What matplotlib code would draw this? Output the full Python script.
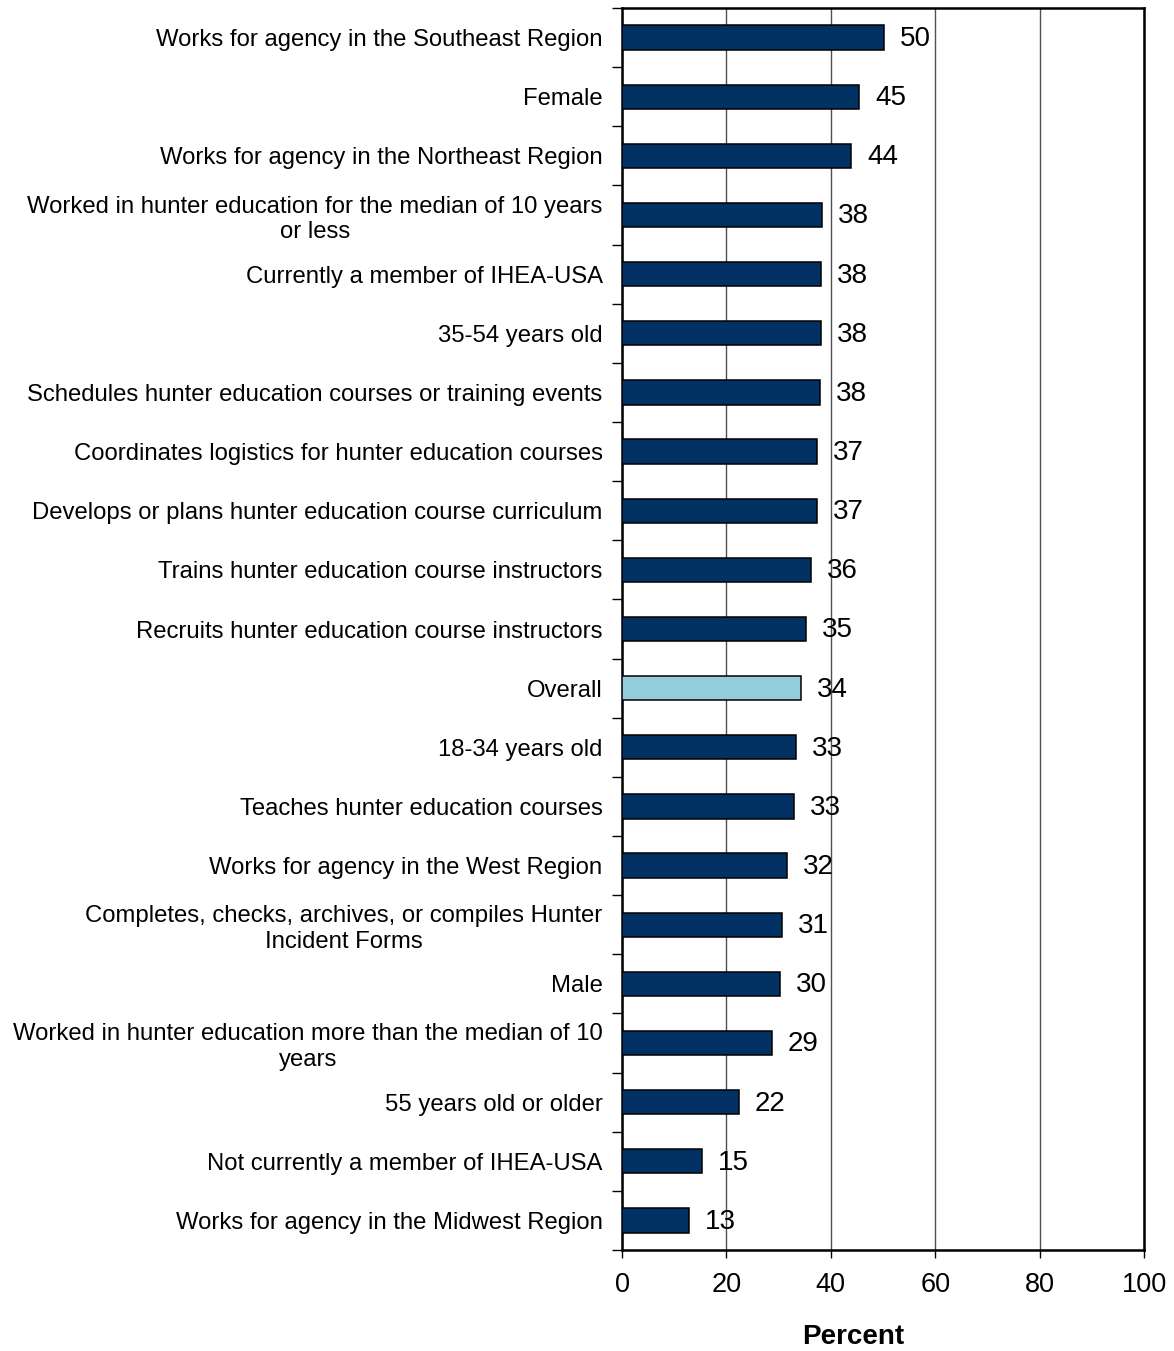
import matplotlib
matplotlib.use("Agg")
import matplotlib.pyplot as plt
from matplotlib.ticker import FixedLocator

plt.rcParams['font.family'] = ['Liberation Sans', 'DejaVu Sans']

categories = [
    "Works for agency in the Southeast Region",
    "Female",
    "Works for agency in the Northeast Region",
    "Worked in hunter education for the median of 10 years\nor less",
    "Currently a member of IHEA-USA",
    "35-54 years old",
    "Schedules hunter education courses or training events",
    "Coordinates logistics for hunter education courses",
    "Develops or plans hunter education course curriculum",
    "Trains hunter education course instructors",
    "Recruits hunter education course instructors",
    "Overall",
    "18-34 years old",
    "Teaches hunter education courses",
    "Works for agency in the West Region",
    "Completes, checks, archives, or compiles Hunter\nIncident Forms",
    "Male",
    "Worked in hunter education more than the median of 10\nyears",
    "55 years old or older",
    "Not currently a member of IHEA-USA",
    "Works for agency in the Midwest Region",
]
percent = [50.2, 45.4, 43.9, 38.3, 38.2, 38.2, 38.0, 37.4, 37.3, 36.2,
           35.2, 34.3, 33.4, 33.0, 31.6, 30.7, 30.2, 28.7, 22.4, 15.4, 12.8]
highlight = "Overall"
x_ticks = [0, 20, 40, 60, 80, 100]

dark = "#023263"
light = "#93CDDD"
colors = [light if c == highlight else dark for c in categories]

fig = plt.figure(figsize=(11.74, 13.51), dpi=100)
ax = fig.add_axes([622 / 1174, 1 - 1250 / 1351, (1144 - 622) / 1174, (1250 - 8) / 1351])

y = list(range(len(categories)))
ax.barh(y, percent, height=0.41, color=colors, edgecolor="black", linewidth=1.1, zorder=3)

for yi, v in zip(y, percent):
    ax.annotate(f"{v:.0f}", xy=(v, yi), xytext=(11.5, -1), textcoords="offset points",
                ha="left", va="center", fontsize=20, zorder=4)

ax.set_xlim(0, 100)
ax.set_ylim(len(categories) - 0.5, -0.5)
ax.set_xticks(x_ticks)
ax.set_xticklabels([str(t) for t in x_ticks], fontsize=19.5)
ax.tick_params(axis="x", direction="out", length=6, width=1, pad=10)

ax.set_yticks(y)
ax.set_yticklabels(categories, fontsize=17.2, multialignment="center")
ax.tick_params(axis="y", which="major", length=0, pad=14)
ax.yaxis.set_minor_locator(FixedLocator([i + 0.5 for i in range(-1, len(categories))]))
ax.tick_params(axis="y", which="minor", direction="out", length=7, width=1)

ax.grid(axis="x", color="#505050", linewidth=1, zorder=0)
for s in ax.spines.values():
    s.set_linewidth(1.8)
    s.set_color("black")

fig.text(853 / 1174, 1 - 1337 / 1351, "Percent", ha="center", va="center",
         fontsize=20, fontweight="bold")

fig.savefig("out.png", dpi=100)
